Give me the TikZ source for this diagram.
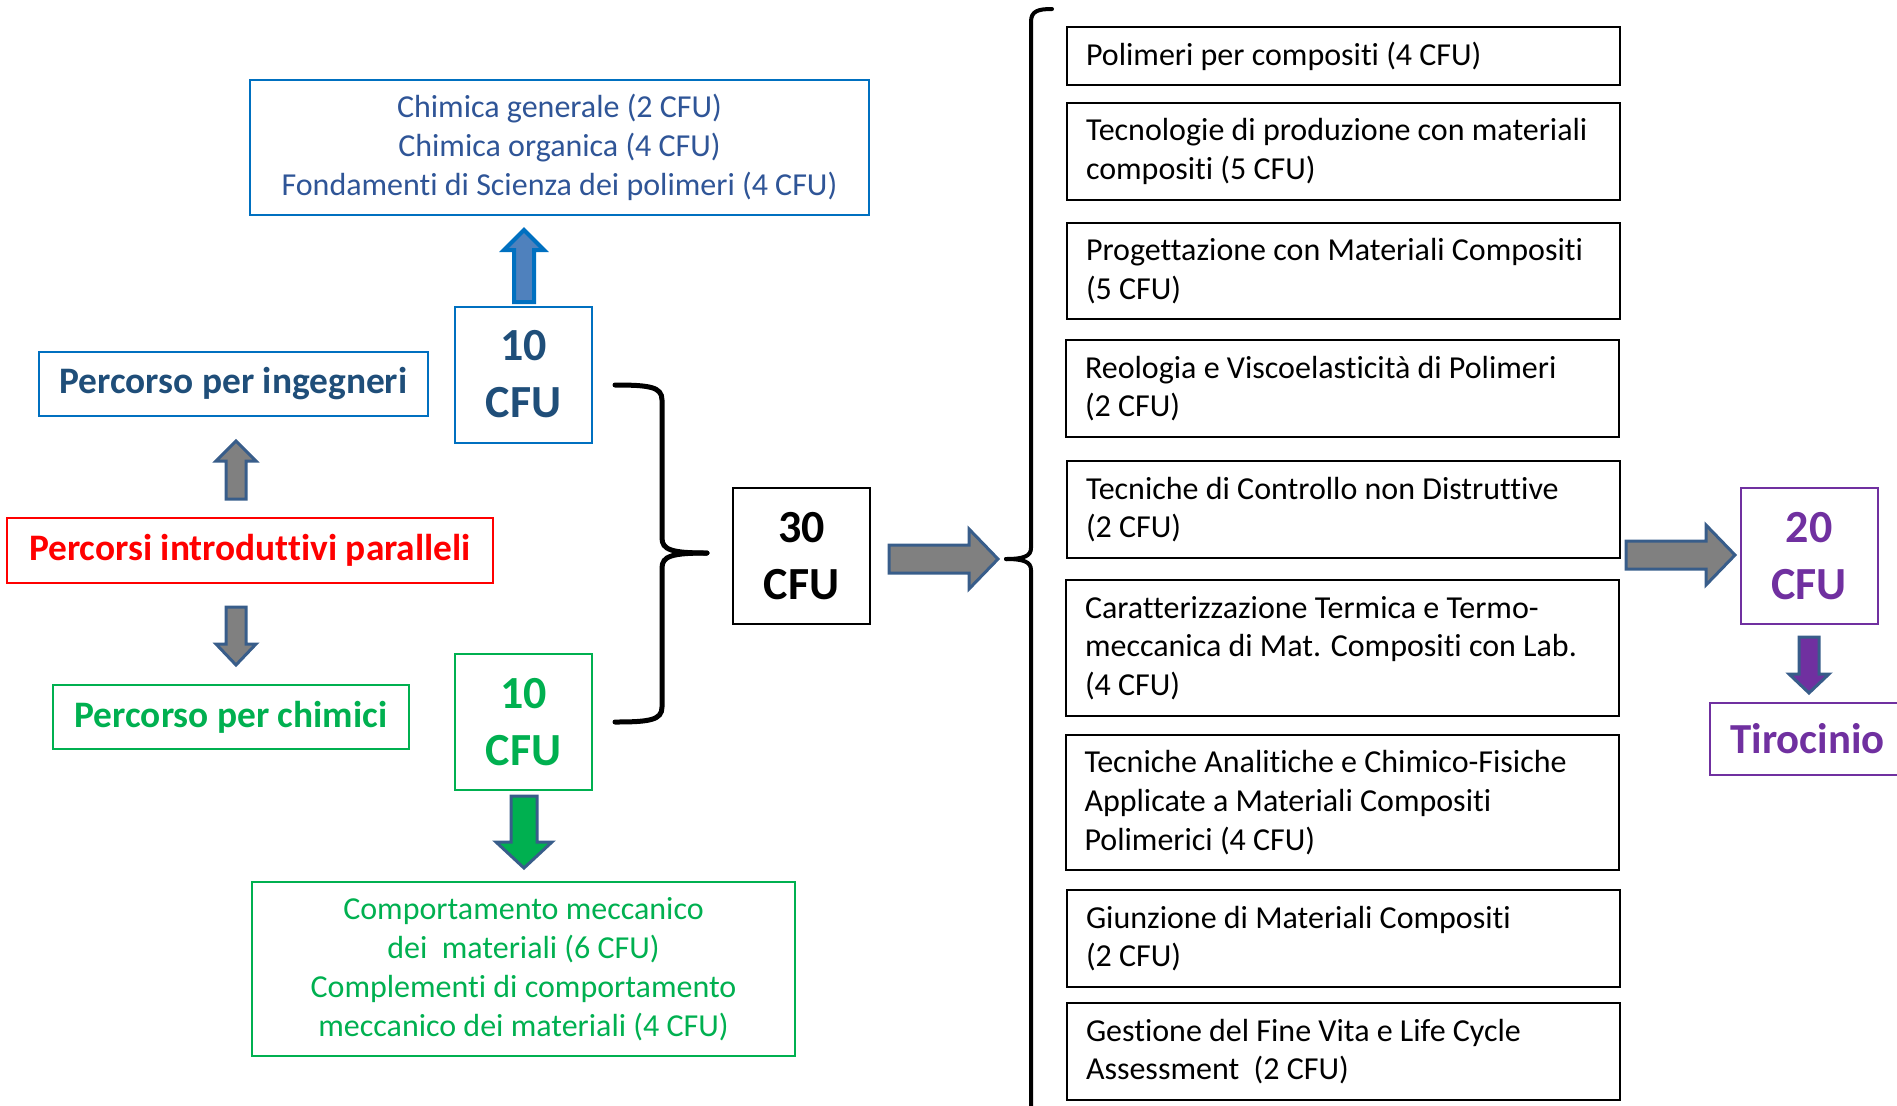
\documentclass[tikz,border=0pt]{standalone}
\usepackage{fontspec}
\setmainfont{Carlito}[Ligatures={NoCommon}]
\hyphenpenalty=10000
\definecolor{dblue}{HTML}{1F4E79}
\definecolor{mblue}{HTML}{2F5597}
\definecolor{bblue}{HTML}{0070C0}
\definecolor{afill}{HTML}{4F81BD}
\definecolor{aout}{HTML}{385D8A}
\definecolor{agray}{HTML}{808080}
\definecolor{ggreen}{HTML}{00B050}
\definecolor{ppurple}{HTML}{7030A0}
\newcommand\VArrow[7]{\draw[#1] ({#2-#6},#3) -- ({#2-#6},#4) -- ({#2-#7},#4) -- (#2,#5) -- ({#2+#7},#4) -- ({#2+#6},#4) -- ({#2+#6},#3) -- cycle;}
\newcommand\HArrow[7]{\draw[#1] (#3,{#2-#6}) -- (#4,{#2-#6}) -- (#4,{#2-#7}) -- (#5,#2) -- (#4,{#2+#7}) -- (#4,{#2+#6}) -- (#3,{#2+#6}) -- cycle;}
\tikzset{
  rbox/.style={draw=black, line width=1pt, inner ysep=0pt, inner xsep=9.5pt, text width=257.5pt, align=flush left, minimum width=276.5pt, font=\fontsize{16}{19.4}\selectfont},
  cbox/.style={draw, line width=1pt, inner sep=0pt, minimum width=68.5pt, minimum height=68pt, align=center, font=\fontsize{23}{28.5}\selectfont\bfseries},
  lbox/.style={draw, line width=1pt, inner sep=0pt, align=center, font=\fontsize{18.7}{22}\selectfont\bfseries},
  tbox/.style={draw, line width=1pt, inner sep=0pt, align=center, font=\fontsize{16}{19.4}\selectfont},
  grayarr/.style={draw=aout, fill=agray, line width=1.5pt},
  bracel/.style={line width=2.5pt, line cap=round},
  bracer/.style={line width=2pt, line cap=round}
}
\begin{document}
\begin{tikzpicture}[x=0.5pt,y=-0.5pt]
\useasboundingbox (0,0) rectangle (1897,1105);
% left column
\node[tbox, draw=bblue, text=mblue, minimum width=309.5pt, minimum height=67.5pt] (chim) at (559.5,147.5) {Chimica generale (2 CFU)\\Chimica organica (4 CFU)\\Fondamenti di Scienza dei polimeri (4 CFU)};
\node[cbox, draw=bblue, text=dblue] (c10a) at (523.5,374.5) {10\\CFU};
\node[cbox, draw=ggreen, text=ggreen] (c10b) at (523.5,722) {10\\CFU};
\node[lbox, draw=bblue, text=dblue, minimum width=194.5pt, minimum height=32pt] (ing) at (233.5,384) {Percorso per ingegneri};
\node[lbox, draw=red, text=red, minimum width=243pt, minimum height=32.5pt] (intro) at (250,550.5) {Percorsi introduttivi paralleli};
\node[lbox, draw=ggreen, text=ggreen, minimum width=178pt, minimum height=32pt] (chimici) at (231,717) {Percorso per chimici};
\node[tbox, draw=ggreen, text=ggreen, minimum width=271.5pt, minimum height=87pt] (mecc) at (523.5,969) {Comportamento meccanico\\dei\ \ materiali (6 CFU)\\Complementi di comportamento\\meccanico dei materiali (4 CFU)};
% arrows left
\VArrow{draw=bblue, fill=afill, line width=2pt}{524}{302}{250}{230}{10}{20}
\VArrow{grayarr}{236}{499}{461}{441}{10}{20}
\VArrow{grayarr}{236}{607}{644}{665}{10}{20}
\VArrow{draw=aout, fill=ggreen, line width=1.5pt}{524}{796}{842}{868}{13}{28}
% 30 CFU
\node[cbox, draw=black, text=black] (c30) at (801.5,556) {30\\CFU};
\draw[bracel] (615,385) .. controls (650,385) and (662,387) .. (662,400) -- (662,538) .. controls (662,550) and (672,553) .. (707,553);
\draw[bracel] (615,722) .. controls (650,722) and (662,720) .. (662,707) -- (662,568) .. controls (662,556) and (672,553) .. (707,553);
\HArrow{grayarr}{559}{889}{969}{998}{14}{30}
% right brace
\draw[bracer] (1052,9) .. controls (1038,9) and (1031,11) .. (1031,22) -- (1031,548) .. controls (1031,556) and (1024,559) .. (1006,559);
\draw[bracer] (1006,559) .. controls (1024,559) and (1031,562) .. (1031,570) -- (1031,1110);
% right column
\node[rbox, minimum height=29pt] (r1) at (1343.5,56) {Polimeri per compositi (4 CFU)};
\node[rbox, minimum height=48.5pt] (r2) at (1343.5,151.5) {Tecnologie di produzione con materiali\\compositi (5 CFU)};
\node[rbox, minimum height=48pt] (r3) at (1343.5,271) {Progettazione con Materiali Compositi\\(5 CFU)};
\node[rbox, minimum height=48.5pt] (r4) at (1342.5,388.5) {Reologia e Viscoelasticità di Polimeri\\(2 CFU)};
\node[rbox, minimum height=48.5pt] (r5) at (1343.5,509.5) {Tecniche di Controllo non Distruttive\\(2 CFU)};
\node[rbox, minimum height=68pt] (r6) at (1342.5,648) {Caratterizzazione Termica e Termo-\\meccanica di Mat. Compositi con Lab.\\(4 CFU)};
\node[rbox, minimum height=67.5pt] (r7) at (1342,802.5) {Tecniche Analitiche e Chimico-Fisiche\\Applicate a Materiali Compositi\\Polimerici (4 CFU)};
\node[rbox, minimum height=48.5pt] (r8) at (1343.5,938.5) {Giunzione di Materiali Compositi\\(2 CFU)};
\node[rbox, minimum height=48.5pt] (r9) at (1343.5,1051.5) {Gestione del Fine Vita e Life Cycle\\Assessment\ \ (2 CFU)};
% far right
\HArrow{grayarr}{555}{1626}{1706}{1735}{14}{30}
\node[cbox, draw=ppurple, text=ppurple] (c20) at (1809,556) {20\\CFU};
\VArrow{draw=aout, fill=ppurple, line width=1.5pt}{1809}{637}{674}{693}{10}{20}
\node[lbox, draw=ppurple, text=ppurple, minimum width=97.5pt, minimum height=36pt, font=\fontsize{21.4}{25}\selectfont\bfseries] (tiro) at (1807.5,739) {Tirocinio};
\end{tikzpicture}
\end{document}
